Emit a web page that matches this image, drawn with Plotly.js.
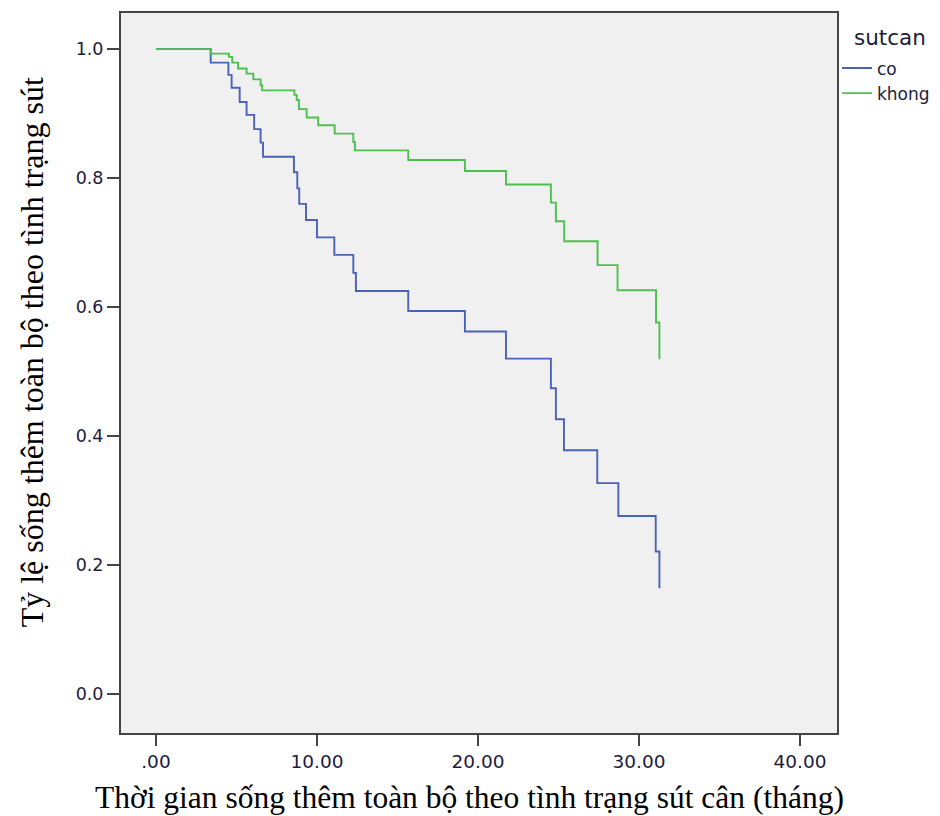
<!DOCTYPE html>
<html>
<head>
<meta charset="utf-8">
<script src="https://cdn.plot.ly/plotly-3.0.1.min.js"></script>
<style>html,body{margin:0;padding:0;background:#fff;}#chart{width:940px;height:816px;}</style>
</head>
<body>
<div id="chart"></div>
<script>
// Survival times (months) and survival proportions
const coTime = [0, 3.4, 4.5, 4.7, 5.2, 5.63, 6.1, 6.5, 6.65, 8.57, 8.78, 8.9, 9.32, 10.0, 11.08, 12.26, 12.42, 15.67, 19.19, 21.74, 24.53, 24.84, 25.34, 27.41, 28.72, 31.04, 31.27];
const coSurv = [1.0, 0.979, 0.96, 0.94, 0.918, 0.898, 0.876, 0.855, 0.833, 0.809, 0.784, 0.76, 0.735, 0.708, 0.681, 0.653, 0.625, 0.594, 0.562, 0.520, 0.474, 0.426, 0.378, 0.327, 0.276, 0.221, 0.164];
const khongTime = [0, 3.4, 4.53, 4.74, 5.1, 5.63, 6.05, 6.5, 6.6, 8.6, 8.74, 8.88, 9.36, 10.08, 11.1, 12.26, 12.36, 15.67, 19.19, 21.74, 24.53, 24.84, 25.36, 27.43, 28.67, 31.06, 31.27];
const khongSurv = [1.0, 0.993, 0.988, 0.979, 0.970, 0.962, 0.953, 0.944, 0.936, 0.929, 0.921, 0.907, 0.894, 0.882, 0.869, 0.856, 0.843, 0.828, 0.811, 0.790, 0.762, 0.733, 0.702, 0.665, 0.626, 0.576, 0.519];
const seriesNames = ["co", "khong"];
const xTickVals = [0, 10, 20, 30, 40];
const xTickText = [".00", "10.00", "20.00", "30.00", "40.00"];
const yTickVals = [0, 0.2, 0.4, 0.6, 0.8, 1.0];
const legendTitle = "sutcan";
const xTitle = "Thời gian sống thêm toàn bộ theo tình trạng sút cân (tháng)";
const yTitle = "Tỷ lệ sống thêm toàn bộ theo tình trạng sút";

const sans = "DejaVu Sans, Verdana, sans-serif";
const serif = "Liberation Serif, Times New Roman, serif";
const data = [
  {x: coTime, y: coSurv, name: seriesNames[0], type: "scatter", mode: "lines",
   line: {shape: "hv", color: "#4a62b8", width: 1.9}},
  {x: khongTime, y: khongSurv, name: seriesNames[1], type: "scatter", mode: "lines",
   line: {shape: "hv", color: "#4cc04c", width: 1.9}}
];
const layout = {
  width: 940, height: 816,
  margin: {l: 121, r: 103, t: 13, b: 83, autoexpand: false},
  paper_bgcolor: "#ffffff",
  plot_bgcolor: "#f0f0f0",
  showlegend: true,
  legend: {
    x: 1.0, y: 0.948, xanchor: "left", yanchor: "top",
    font: {family: sans, size: 17, color: "#1c1c3c"},
    bgcolor: "rgba(0,0,0,0)", itemwidth: 30, tracegroupgap: 0
  },
  xaxis: {
    range: [-2.17, 42.3], tickvals: xTickVals, ticktext: xTickText,
    ticks: "outside", ticklen: 11, tickwidth: 2, tickcolor: "#444",
    showgrid: false, zeroline: false,
    showline: true, mirror: true, linecolor: "#444", linewidth: 2,
    tickfont: {family: sans, size: 18.5, color: "#1c1c3c"}
  },
  yaxis: {
    range: [-0.0605, 1.056], tickvals: yTickVals, tickformat: ".1f",
    ticks: "outside", ticklen: 12, tickwidth: 2, tickcolor: "#444",
    showgrid: false, zeroline: false,
    showline: true, mirror: true, linecolor: "#444", linewidth: 2,
    tickfont: {family: sans, size: 17.5, color: "#1c1c3c"}
  },
  annotations: [
    {text: legendTitle, xref: "paper", yref: "paper", x: 1.021, y: 0.966, xanchor: "left", yanchor: "middle",
     showarrow: false, font: {family: sans, size: 21.5, color: "#1c1c3c"}},
    {text: xTitle, xref: "paper", yref: "paper", x: 0.487, y: -0.09, xanchor: "center", yanchor: "middle",
     showarrow: false, font: {family: serif, size: 31.5, color: "#000"}},
    {text: yTitle, xref: "paper", yref: "paper", x: -0.124, y: 0.529, xanchor: "center", yanchor: "middle",
     textangle: -90, showarrow: false, font: {family: serif, size: 32, color: "#000"}}
  ]
};
Plotly.newPlot("chart", data, layout, {displayModeBar: false, staticPlot: true});
</script>
</body>
</html>
